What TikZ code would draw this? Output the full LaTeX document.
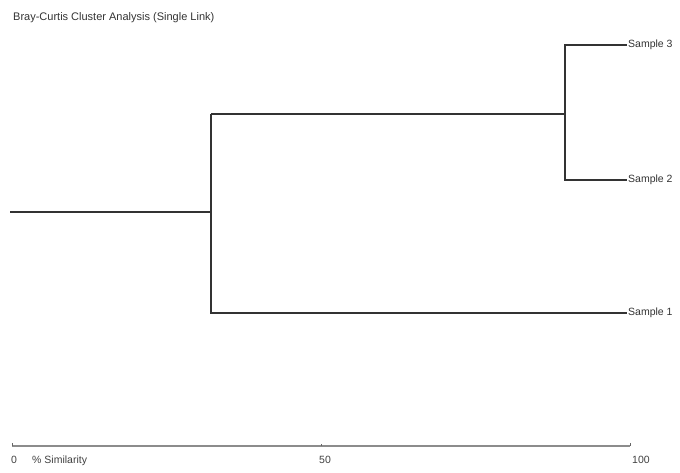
\documentclass[tikz,border=0pt]{standalone}
\usepackage{fontspec}
\setmainfont{Liberation Sans}
\begin{document}
\begin{tikzpicture}[x=1pt,y=1pt,
  branch/.style={line width=2.2pt,color=black!80},
  stem/.style={line width=1.4pt,color=black!80},
  leaf/.style={anchor=west,inner sep=1pt,font=\fontsize{10.5}{12}\selectfont,text=black!80},
  axislab/.style={anchor=north,inner sep=0pt,font=\fontsize{10.5}{12}\selectfont,text=black!75},
  axisline/.style={line width=1.2pt,color=black!45}]
\useasboundingbox (0,0) rectangle (680,473);
% title
\node[anchor=west,inner sep=0pt,font=\fontsize{11}{13}\selectfont,text=black!80] (title) at (13,455) {Bray-Curtis Cluster Analysis (Single Link)};
% leaves
\node[leaf] (s3) at (627,428) {Sample 3};
\node[leaf] (s2) at (627,293) {Sample 2};
\node[leaf] (s1) at (627,160) {Sample 1};
% joins
\coordinate (j23) at (565,359);
\coordinate (jall) at (211,261);
\coordinate (root) at (10,261);
% dendrogram
\draw[branch] (s3.west) -| (j23) |- (s2.west);
\draw[branch] (j23) -- (j23 -| jall);
\draw[branch] (j23 -| jall) -- (jall) |- (s1.west);
\draw[stem] (root) -- (jall);
% axis
\coordinate (a0) at (12,27);
\coordinate (a100) at (630,27);
\draw[axisline] (a0) -- (a100);
\draw[line width=0.8pt,black!60] (a0) -- ++(0,2.5) (a100) -- ++(0,2.5) (321,27) -- ++(0,2);
\node[axislab] (l0) at (14,17) {0};
\node[axislab,anchor=north west] (lsim) at (32,17) {\% Similarity};
\node[axislab] (l50) at (325,17) {50};
\node[axislab] (l100) at (641,17) {100};
\end{tikzpicture}
\end{document}
